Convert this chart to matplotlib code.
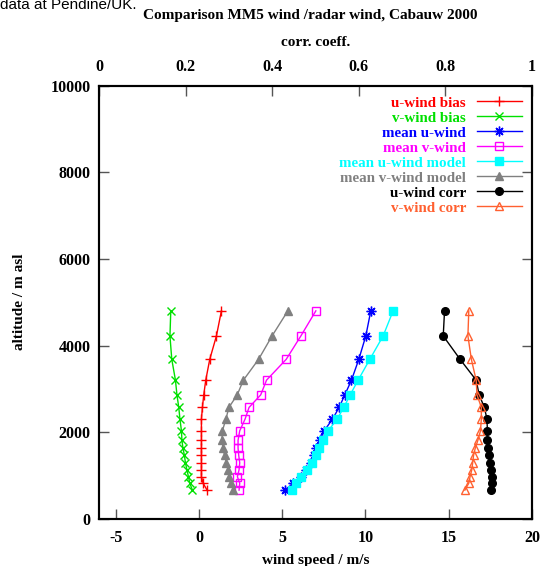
import matplotlib
matplotlib.use('Agg')
import matplotlib.pyplot as plt

# Altitudes of the profile levels (m asl)
altitude = [4800, 4220, 3680, 3200, 2860, 2570, 2300, 2030, 1810, 1630,
            1460, 1290, 1130, 970, 820, 660]

# Wind speeds (m/s)
u_bias = [1.35, 1.05, 0.65, 0.41, 0.29, 0.21, 0.15, 0.15, 0.15, 0.15,
          0.15, 0.15, 0.15, 0.15, 0.25, 0.49]
v_bias = [-1.69, -1.74, -1.63, -1.41, -1.32, -1.21, -1.14, -1.05, -1.02, -0.96,
          -0.87, -0.81, -0.72, -0.63, -0.55, -0.39]
mean_u = [10.32, 10.02, 9.60, 9.16, 8.76, 8.42, 8.02, 7.52, 7.26, 7.06,
          6.90, 6.70, 6.42, 6.12, 5.66, 5.16]
mean_v = [7.02, 6.12, 5.24, 4.06, 3.71, 3.01, 2.77, 2.45, 2.35, 2.35,
          2.39, 2.45, 2.41, 2.31, 2.45, 2.41]
mean_u_model = [11.66, 11.06, 10.26, 9.56, 9.08, 8.70, 8.30, 7.76, 7.46, 7.22,
                7.00, 6.76, 6.46, 6.10, 5.82, 5.60]
mean_v_model = [5.34, 4.39, 3.58, 2.67, 2.30, 1.80, 1.62, 1.41, 1.38, 1.45,
                1.54, 1.65, 1.74, 1.82, 1.92, 2.07]

# Correlation coefficients
u_corr = [0.798, 0.795, 0.834, 0.871, 0.878, 0.890, 0.896, 0.897, 0.897, 0.898,
          0.901, 0.902, 0.905, 0.908, 0.908, 0.905]
v_corr = [0.854, 0.852, 0.860, 0.871, 0.873, 0.883, 0.883, 0.881, 0.875, 0.869,
          0.865, 0.863, 0.861, 0.857, 0.854, 0.845]

x_ticks = [-5, 0, 5, 10, 15, 20]
x2_ticks = [0, 0.2, 0.4, 0.6, 0.8, 1]
y_ticks = [0, 2000, 4000, 6000, 8000, 10000]

serif = 'Liberation Serif'
plt.rcParams['font.family'] = serif
plt.rcParams['font.weight'] = 'bold'

fig = plt.figure(figsize=(5.44, 5.66), dpi=100)
ax = fig.add_axes([99 / 544, 1 - 518.7 / 566, 433 / 544, 433 / 566])
ax2 = ax.twiny()

ms = 5
lw = 1.0
h = []
h += ax.plot(u_bias, altitude, color='#ff0000', marker='+', ms=ms + 2, lw=lw, label='u-wind bias')
h += ax.plot(v_bias, altitude, color='#00e000', marker='x', ms=ms + 1, lw=lw, label='v-wind bias')
h += ax.plot(mean_u, altitude, color='#0000ff', marker=(8, 2, 0), ms=ms + 2, lw=lw, label='mean u-wind')
h += ax.plot(mean_v, altitude, color='#ff00ff', marker='s', mfc='none', ms=ms + 0.5, lw=lw, label='mean v-wind')
h += ax.plot(mean_u_model, altitude, color='#00ffff', marker='s', ms=ms + 0.5, lw=lw, label='mean u-wind model')
h += ax.plot(mean_v_model, altitude, color='#808080', marker='^', ms=ms + 0.5, lw=lw, label='mean v-wind model')
h += ax2.plot(u_corr, altitude, color='#000000', marker='o', ms=ms + 0.5, lw=lw, label='u-wind corr')
h += ax2.plot(v_corr, altitude, color='#ff6030', marker='^', mfc='none', ms=ms + 1, lw=lw, label='v-wind corr')

ax.set_xlim(-6, 20)
ax.set_ylim(0, 10000)
ax2.set_xlim(0, 1)

ax.set_xticks(x_ticks)
ax.set_xticklabels([str(t) for t in x_ticks])
ax.set_yticks(y_ticks)
ax2.set_xticks(x2_ticks)
ax2.set_xticklabels(['0', '0.2', '0.4', '0.6', '0.8', '1'])

ax.tick_params(axis='x', direction='in', length=7, width=1, color='#555555',
               top=False, labelsize=11.5, pad=8)
ax.tick_params(axis='y', direction='in', length=7, width=1, color='#555555',
               right=True, labelsize=11.5, pad=6)
ax2.tick_params(axis='x', direction='in', length=7, width=1, color='#555555',
                labelsize=11.5, pad=8)

for a in (ax, ax2):
    for s in a.spines.values():
        s.set_linewidth(1.5)

ax.set_xlabel('wind speed / m/s', fontsize=11, fontweight='bold', labelpad=6)
ax.set_ylabel('altitude / m asl', fontsize=11, fontweight='bold', labelpad=18)
ax2.set_xlabel('corr. coeff.', fontsize=11, fontweight='bold', labelpad=9)

leg = ax2.legend(handles=h, loc='upper right', markerfirst=False, frameon=False,
                 fontsize=10.8, handlelength=3.0, handletextpad=0.7,
                 labelspacing=0.1, borderaxespad=0.3)
for t, line in zip(leg.get_texts(), h):
    t.set_color(line.get_color())
    t.set_fontweight('bold')

fig.text(310 / 544, 1 - 16 / 566, 'Comparison MM5 wind /radar wind, Cabauw 2000',
         ha='center', va='center', fontsize=11, fontweight='bold')
fig.text(0.0, 1 - 9 / 566, 'data at Pendine/UK.', ha='left', va='baseline',
         fontsize=11, fontweight='normal', family='Liberation Sans')

fig.savefig('out.png', dpi=100)
